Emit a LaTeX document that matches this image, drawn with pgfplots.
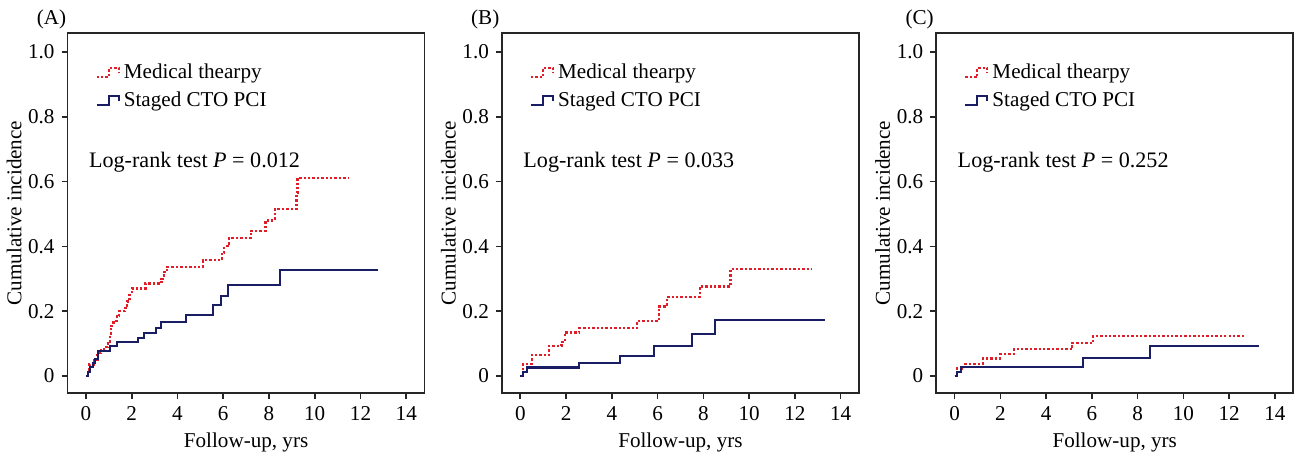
\documentclass[border=0pt]{standalone}
\usepackage{fontspec}
\setmainfont{Liberation Serif}
\usepackage{pgfplots}
\pgfplotsset{compat=1.18}

\definecolor{medred}{RGB}{225,30,40}
\definecolor{pcinavy}{RGB}{25,30,100}

\pgfplotsset{
  kmpanel/.style={
    scale only axis, width=177.5pt, height=179pt,
    font=\fontsize{10.5}{12.6}\selectfont,
    xmin=-0.8, xmax=14.8, ymin=-0.053, ymax=1.058,
    xtick={0,2,...,14}, ytick={0,0.2,0.4,0.6,0.8,1.0},
    yticklabels={0,0.2,0.4,0.6,0.8,1.0},
    tick align=outside, xtick pos=bottom, ytick pos=left,
    major tick length=3pt,
    axis line style={line width=0.8pt, black!85},
    tick style={line width=0.8pt, black!85},
    /pgf/number format/assume math mode=true,
    xlabel={Follow-up, yrs}, ylabel={Cumulative incidence},
    xlabel style={at={(axis description cs:0.5,-0.137)}, anchor=center},
    ylabel style={at={(axis description cs:-0.15,0.5)}, anchor=center},
    legend style={at={(0.06,0.937)}, anchor=north west, draw=none, fill=none,
      row sep=1pt, font=\fontsize{10.5}{12.6}\selectfont},
    legend cell align=left,
    clip=false,
  },
  medline/.style={color=medred, line width=1.1pt, dash pattern=on 1.2pt off 1pt},
  pciline/.style={color=pcinavy, line width=1pt},
  steplegend/.style={legend image code/.code={
    \draw[##1] (0pt,-2pt) -- (6pt,-2pt) -- (6pt,2.5pt) -- (11pt,2.5pt) -- (11pt,0pt);}},
}
\newcommand{\logrank}[1]{\node[anchor=west, inner sep=0pt, font=\fontsize{11}{13}\selectfont]
  at (axis cs:0.12,0.66) {Log-rank test \textit{P} = #1};}
\newcommand{\paneltag}[1]{\node[anchor=west, inner sep=0pt]
  at ([xshift=-15.5pt,yshift=7pt]rel axis cs:0,1) {#1};}

\begin{document}
\begin{tikzpicture}

% (A)
\begin{axis}[kmpanel, name=A]
\addplot[medline, const plot, steplegend] coordinates {
(0,0)(0.08,0.02)(0.15,0.035)(0.35,0.05)(0.5,0.07)(0.65,0.08)(0.8,0.09)(0.95,0.105)
(1.05,0.13)(1.1,0.155)(1.2,0.17)(1.35,0.185)(1.45,0.2)(1.7,0.21)(1.8,0.23)(1.9,0.25)
(2.0,0.27)(2.6,0.285)(3.3,0.3)(3.4,0.32)(3.55,0.337)(5.1,0.357)(5.95,0.38)(6.05,0.40)
(6.25,0.425)(7.2,0.448)(7.85,0.48)(8.25,0.515)(9.2,0.565)(9.25,0.612)(11.5,0.612)};
\addlegendentry{Medical thearpy}
\addplot[pciline, const plot, steplegend] coordinates {
(0,0)(0.1,0.013)(0.18,0.028)(0.32,0.04)(0.4,0.052)(0.54,0.078)(1.03,0.092)(1.35,0.105)
(2.26,0.118)(2.54,0.131)(3.04,0.149)(3.27,0.165)(4.36,0.188)(5.57,0.218)(5.9,0.248)
(6.2,0.28)(8.5,0.328)(12.76,0.328)};
\addlegendentry{Staged CTO PCI}
\logrank{0.012}
\paneltag{(A)}
\end{axis}

% (B)
\begin{axis}[kmpanel, at={(216pt,0pt)}]
\addplot[medline, const plot, steplegend] coordinates {
(0,0)(0.06,0.007)(0.13,0.038)(0.5,0.064)(1.26,0.092)(1.8,0.105)(1.95,0.134)(2.58,0.147)
(5.11,0.17)(6.07,0.214)(6.4,0.243)(7.84,0.276)(9.19,0.331)(12.72,0.331)};
\addlegendentry{Medical thearpy}
\addplot[pciline, const plot, steplegend] coordinates {
(0,0)(0.13,0.012)(0.31,0.026)(2.56,0.04)(4.38,0.062)(5.86,0.092)(7.5,0.13)(8.53,0.173)
(13.3,0.173)};
\addlegendentry{Staged CTO PCI}
\logrank{0.033}
\paneltag{(B)}
\end{axis}

% (C)
\begin{axis}[kmpanel, at={(432pt,0pt)}]
\addplot[medline, const plot, steplegend] coordinates {
(0,0)(0.07,0.007)(0.12,0.023)(0.44,0.038)(1.25,0.054)(1.98,0.067)(2.6,0.082)(5.14,0.102)
(6.06,0.124)(12.73,0.124)};
\addlegendentry{Medical thearpy}
\addplot[pciline, const plot, steplegend] coordinates {
(0,0)(0.12,0.012)(0.3,0.028)(5.6,0.054)(8.53,0.093)(13.3,0.093)};
\addlegendentry{Staged CTO PCI}
\logrank{0.252}
\paneltag{(C)}
\end{axis}

% page margins as in the reference
\path (A.north west) ++(0,16.5pt) coordinate (top);
\path (A.south west) ++(0,-30.5pt) coordinate (bottom);
\end{tikzpicture}
\end{document}
